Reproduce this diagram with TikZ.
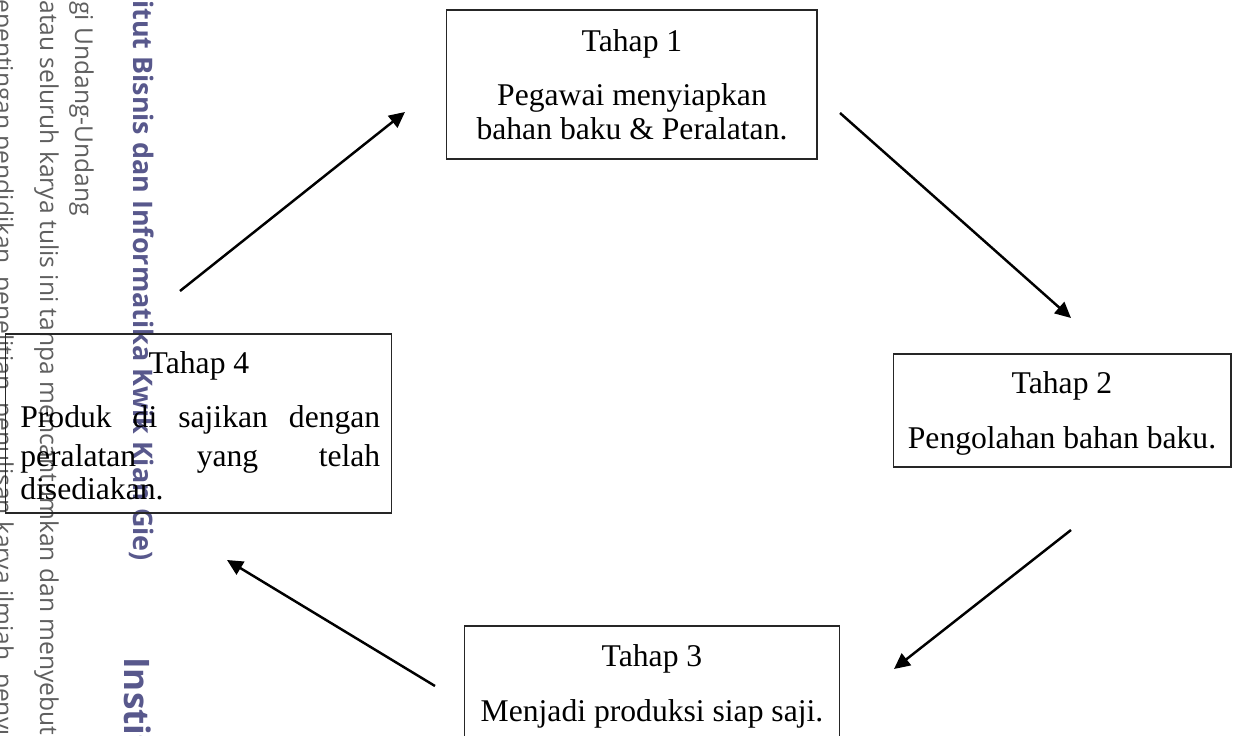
\documentclass[tikz,border=0pt]{standalone}
\usepackage{fontspec}
\setmainfont{Liberation Serif}
\newfontfamily\wmfont{Open Sans}
\usetikzlibrary{arrows.meta}
\definecolor{wmpurple}{RGB}{88,88,140}
\definecolor{wmgray}{RGB}{95,95,95}
\begin{document}
\begin{tikzpicture}[x=0.02cm, y=-0.02cm,
  box/.style={draw=black!85, line width=0.6pt, rectangle, inner sep=0pt},
  lbl/.style={anchor=base, inner sep=0pt, font=\fontsize{18}{19}\selectfont},
  flow/.style={line width=1.4pt, -{Triangle[length=9pt,width=8.5pt]}},
  wm/.style={rotate=-90, anchor=base west, inner sep=0pt, text=wmgray, font=\wmfont\fontsize{14}{14}\selectfont},
  wmb/.style={rotate=-90, anchor=base west, inner sep=0pt, text=wmpurple, font=\wmfont\bfseries\fontsize{15.3}{15.3}\selectfont}]
\useasboundingbox (0,0) rectangle (1234,736);
\clip (0,0) rectangle (1234,736);
\fill[white] (0,0) rectangle (1234,736);

% watermark
\node[wm] (w1) at (-5,-1) {epentingan pendidikan, penelitian, penulisan karya ilmiah, penyusunan};
\node[wm] (w2) at (40,0) {atau seluruh karya tulis ini tanpa mencantumkan dan menyebutkan};
\node[wm] (w3) at (75,1) {gi Undang-Undang};
\node[wmb] (w4) at (133,0) {itut Bisnis dan Informatika Kwik Kian Gie)};
\node[wmb, font=\wmfont\bfseries\fontsize{20}{20}\selectfont] (w5) at (124,657) {Institut};

% boxes
\node[box, minimum width=7.42cm, minimum height=2.98cm] (t1) at (631.5,84.5) {};
\node[box, minimum width=6.76cm, minimum height=2.26cm] (t2) at (1062,410.5) {};
\node[box, minimum width=7.52cm, minimum height=2.68cm] (t3) at (652,693) {};
\node[box, minimum width=7.74cm, minimum height=3.58cm] (t4) at (198.5,423.5) {};

% texts
\node[lbl] (t1a) at (632,52) {Tahap 1};
\node[lbl] (t1b) at (632,106) {Pegawai menyiapkan};
\node[lbl] (t1c) at (632,140) {bahan baku \& Peralatan.};

\node[lbl] (t2a) at (1062,394) {Tahap 2};
\node[lbl] (t2b) at (1062,448) {Pengolahan bahan baku.};

\node[lbl] (t3a) at (652,666) {Tahap 3};
\node[lbl] (t3b) at (652,721) {Menjadi produksi siap saji.};

\node[lbl] (t4a) at (199,374) {Tahap 4};
\node[lbl, anchor=base west] (t4b) at (20,427) {\makebox[7.2cm][s]{Produk\hfill di\hfill sajikan\hfill dengan}};
\node[lbl, anchor=base west] (t4c) at (20,466) {\makebox[7.2cm][s]{peralatan\hfill yang\hfill telah}};
\node[lbl, anchor=base west] (t4d) at (20,500) {disediakan.};

% connectors
\coordinate (a1s) at (180,291); \coordinate (a1e) at (405,112);
\coordinate (a2s) at (840,113); \coordinate (a2e) at (1071,318);
\coordinate (a3s) at (1071,530); \coordinate (a3e) at (894,669);
\coordinate (a4s) at (435,686); \coordinate (a4e) at (227,560);
\draw[flow] (a1s) -- (a1e);
\draw[flow] (a2s) -- (a2e);
\draw[flow] (a3s) -- (a3e);
\draw[flow] (a4s) -- (a4e);
\end{tikzpicture}
\end{document}
